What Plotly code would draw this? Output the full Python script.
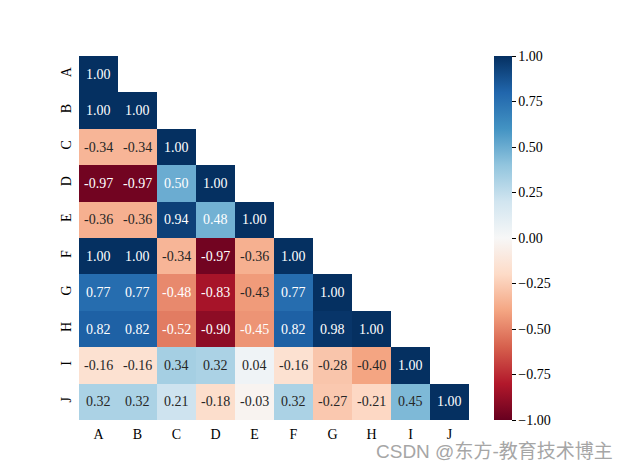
import plotly.graph_objects as go

labels = ["A", "B", "C", "D", "E", "F", "G", "H", "I", "J"]
rows = [
    [1.00],
    [1.00, 1.00],
    [-0.34, -0.34, 1.00],
    [-0.97, -0.97, 0.50, 1.00],
    [-0.36, -0.36, 0.94, 0.48, 1.00],
    [1.00, 1.00, -0.34, -0.97, -0.36, 1.00],
    [0.77, 0.77, -0.48, -0.83, -0.43, 0.77, 1.00],
    [0.82, 0.82, -0.52, -0.90, -0.45, 0.82, 0.98, 1.00],
    [-0.16, -0.16, 0.34, 0.32, 0.04, -0.16, -0.28, -0.40, 1.00],
    [0.32, 0.32, 0.21, -0.18, -0.03, 0.32, -0.27, -0.21, 0.45, 1.00],
]
cbar_ticks = [-1.0, -0.75, -0.5, -0.25, 0.0, 0.25, 0.5, 0.75, 1.0]

rdbu_hex = ["#67001f", "#b2182b", "#d6604d", "#f4a582", "#fddbc7", "#f7f7f7",
            "#d1e5f0", "#92c5de", "#4393c3", "#2166ac", "#053061"]
n = len(rdbu_hex)
colorscale = [[i / (n - 1), c] for i, c in enumerate(rdbu_hex)]


def hex2rgb(h):
    return [int(h[i:i + 2], 16) / 255 for i in (1, 3, 5)]


def cmap(v):
    t = (v + 1) / 2
    t = min(max(t, 0), 1)
    pos = t * (n - 1)
    i = min(int(pos), n - 2)
    f = pos - i
    a, b = hex2rgb(rdbu_hex[i]), hex2rgb(rdbu_hex[i + 1])
    return [a[k] + (b[k] - a[k]) * f for k in range(3)]


def lum(rgb):
    lin = [c / 12.92 if c <= 0.03928 else ((c + 0.055) / 1.055) ** 2.4 for c in rgb]
    return 0.2126 * lin[0] + 0.7152 * lin[1] + 0.0722 * lin[2]


z = [r + [None] * (len(labels) - len(r)) for r in rows]

# page body has an 8px margin; figure coordinates = screen coordinates - 8
OFF = 8
W, H = 629 - 2 * OFF, 472 - 2 * OFF
L, R, T, B = 79 - OFF, 469 - OFF, 56 - OFF, 420 - OFF
PW, PH = R - L, B - T

fig = go.Figure()
fig.add_trace(go.Heatmap(
    z=z, x=labels, y=labels, zmin=-1, zmax=1, colorscale=colorscale,
    hoverongaps=False, xgap=0, ygap=0,
    colorbar=dict(
        x=(494 - OFF - L) / PW, xanchor="left", xpad=0,
        y=0.5, yanchor="middle", ypad=0,
        len=1.0, lenmode="fraction", thickness=18, thicknessmode="pixels",
        outlinewidth=0, ticks="outside", ticklen=4, tickcolor="black",
        tickvals=cbar_ticks, tickformat=".2f",
        tickfont=dict(family="Liberation Serif", size=14, color="black"),
    ),
))

annotations = []
for i, r in enumerate(rows):
    for j, v in enumerate(r):
        col = "white" if lum(cmap(v)) < 0.408 else "#262626"
        annotations.append(dict(
            x=labels[j], y=labels[i], text=f"{v:.2f}", showarrow=False,
            font=dict(family="Liberation Serif", size=14, color=col),
        ))

annotations.append(dict(
    xref="paper", yref="paper", x=(614 - OFF - L) / PW, y=(B - (452 - OFF)) / PH,
    xanchor="right", yanchor="middle", borderpad=0,
    text="CSDN @东方-教育技术博主", showarrow=False,
    font=dict(family="Liberation Sans, Noto Sans CJK SC", size=19, color="#a6a6a6"),
))

fig.update_layout(
    width=W, height=H,
    margin=dict(l=L, r=W - R, t=T, b=H - B, autoexpand=False),
    paper_bgcolor="white", plot_bgcolor="white",
    annotations=annotations,
    xaxis=dict(showgrid=False, zeroline=False, ticks="", ticklabelstandoff=4,
               tickfont=dict(family="Liberation Serif", size=14, color="black")),
    yaxis=dict(showgrid=False, zeroline=False, autorange="reversed", ticks="",
               tickangle=-90, ticklabelstandoff=4,
               tickfont=dict(family="Liberation Serif", size=14, color="black")),
)

fig.write_html("out.html")
